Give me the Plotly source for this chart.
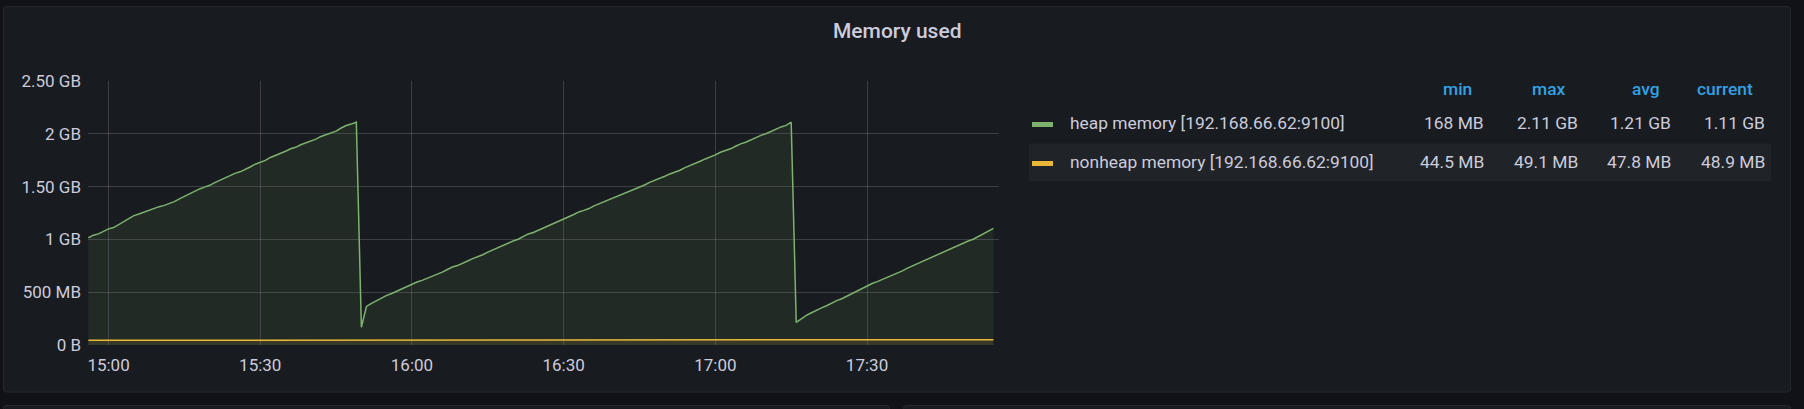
import pandas as pd
import plotly.graph_objects as go

# ---------------- data ----------------
start_time = "2021-06-01 14:56:00"
n_points = 180  # one sample per minute, 14:56 -> 17:55

heap_mb = [
    1016, 1040, 1052, 1078, 1100, 1112, 1140, 1168, 1195, 1225,
    1240, 1258, 1270, 1292, 1310, 1322, 1340, 1358, 1384, 1408,
    1425, 1448, 1478, 1495, 1512, 1538, 1560, 1575, 1598, 1625,
    1640, 1660, 1686, 1712, 1728, 1748, 1776, 1794, 1810, 1835,
    1858, 1872, 1896, 1915, 1928, 1950, 1975, 1992, 2005, 2025,
    2055, 2078, 2092, 2110, 168, 365, 395, 420, 448, 470,
    488, 510, 535, 552, 575, 596, 612, 630, 655, 672,
    690, 715, 738, 752, 770, 795, 818, 836, 855, 880,
    902, 920, 942, 968, 985, 1002, 1028, 1052, 1066, 1088,
    1112, 1130, 1150, 1178, 1200, 1215, 1236, 1260, 1275, 1292,
    1318, 1338, 1352, 1372, 1395, 1415, 1432, 1456, 1478, 1494,
    1515, 1540, 1558, 1575, 1598, 1620, 1636, 1655, 1680, 1698,
    1715, 1740, 1762, 1778, 1800, 1825, 1840, 1858, 1882, 1905,
    1920, 1942, 1966, 1985, 2000, 2022, 2048, 2065, 2080, 2110,
    215, 248, 280, 305, 332, 352, 372, 398, 420, 438,
    462, 488, 512, 535, 560, 582, 600, 620, 642, 662,
    680, 702, 728, 750, 768, 790, 815, 835, 855, 878,
    900, 920, 942, 962, 985, 1002, 1028, 1052, 1075, 1105,
]

nonheap_mb = [
    44.5, 44.6, 44.6, 44.7, 44.8, 45.0, 45.3, 45.9, 46.6, 47.2,
    47.5, 47.7, 47.8, 47.8, 47.9, 47.9, 48.0, 47.9, 48.0, 48.0,
    48.0, 48.1, 48.0, 48.1, 48.1, 48.0, 48.1, 48.2, 48.1, 48.1,
    48.2, 48.1, 48.2, 48.2, 48.1, 48.2, 48.2, 48.3, 48.2, 48.2,
    48.3, 48.2, 48.3, 48.3, 48.2, 48.3, 48.3, 48.4, 48.3, 48.3,
    48.4, 48.3, 48.4, 48.4, 47.6, 47.7, 47.7, 47.8, 47.8, 47.9,
    47.9, 47.9, 48.0, 48.0, 47.9, 48.0, 48.0, 48.1, 48.0, 48.0,
    48.1, 48.0, 48.1, 48.1, 48.0, 48.1, 48.1, 48.2, 48.1, 48.1,
    48.2, 48.1, 48.2, 48.2, 48.1, 48.2, 48.2, 48.3, 48.2, 48.2,
    48.3, 48.2, 48.3, 48.3, 48.2, 48.3, 48.3, 48.4, 48.3, 48.3,
    48.4, 48.3, 48.4, 48.4, 48.5, 48.6, 48.7, 48.8, 48.9, 49.0,
    49.1, 49.0, 48.8, 48.5, 48.3, 48.2, 48.3, 48.3, 48.4, 48.3,
    48.3, 48.4, 48.4, 48.3, 48.4, 48.4, 48.5, 48.4, 48.4, 48.5,
    48.5, 48.4, 48.5, 48.5, 48.4, 48.5, 48.5, 48.6, 48.5, 48.5,
    47.9, 48.0, 48.0, 48.1, 48.1, 48.2, 48.2, 48.3, 48.3, 48.4,
    48.4, 48.5, 48.5, 48.5, 48.6, 48.6, 48.6, 48.7, 48.7, 48.7,
    48.7, 48.8, 48.8, 48.8, 48.8, 48.8, 48.9, 48.8, 48.9, 48.9,
    48.9, 48.9, 48.8, 48.9, 48.9, 48.9, 48.9, 48.9, 48.9, 48.9,
]

series_names = ["heap memory [192.168.66.62:9100]", "nonheap memory [192.168.66.62:9100]"]
series_colors = ["#7eb26d", "#eab839"]
series_fills = ["rgba(126,178,109,0.10)", "rgba(234,184,57,0.10)"]

stat_headers = ["min", "max", "avg", "current"]
heap_stats = ["168 MB", "2.11 GB", "1.21 GB", "1.11 GB"]
nonheap_stats = ["44.5 MB", "49.1 MB", "47.8 MB", "48.9 MB"]

y_tick_vals = [0, 500, 1000, 1500, 2000, 2500]
y_tick_text = ["0 B", "500 MB", "1 GB", "1.50 GB", "2 GB", "2.50 GB"]
x_tick_text = ["15:00", "15:30", "16:00", "16:30", "17:00", "17:30"]
x_tick_vals = ["2021-06-01 " + t for t in x_tick_text]
x_range = ["2021-06-01 14:55:56", "2021-06-01 17:56:06"]
title_text = "Memory used"

times = pd.date_range(start_time, periods=n_points, freq="1min")

# ---------------- figure ----------------
W, H = 1804, 409
ML, MR, MT, MB = 88, 805, 81, 64
PW, PH = W - ML - MR, H - MT - MB


def px(x):
    return (x - ML) / PW


def py(y):
    return (H - MB - y) / PH


TEXT = "#ccccdc"
FONT = "Roboto"

fig = go.Figure()
for vals, name, col, fc in zip([heap_mb, nonheap_mb], series_names, series_colors, series_fills):
    fig.add_trace(go.Scatter(
        x=times, y=vals, name=name, mode="lines",
        line=dict(color=col, width=1.5), fill="tozeroy", fillcolor=fc,
        hoverinfo="skip", showlegend=False,
    ))


def rrect(x0, y0, x1, y1, r):
    X0, X1 = px(x0), px(x1)
    Y0, Y1 = py(y0), py(y1)
    rx, ry = r / PW, r / PH
    return (f"M {X0+rx},{Y0} L {X1-rx},{Y0} Q {X1},{Y0} {X1},{Y0-ry} "
            f"L {X1},{Y1+ry} Q {X1},{Y1} {X1-rx},{Y1} L {X0+rx},{Y1} "
            f"Q {X0},{Y1} {X0},{Y1+ry} L {X0},{Y0-ry} Q {X0},{Y0} {X0+rx},{Y0} Z")


shapes = []
panel_border = "#25282d"
panel_bg = "#181b1f"
# main panel
shapes.append(dict(type="path", xref="paper", yref="paper", layer="below",
                   path=rrect(3.5, 6.5, 1790.5, 392, 3), fillcolor=panel_bg,
                   line=dict(color=panel_border, width=1)))
# tops of the panels below
shapes.append(dict(type="path", xref="paper", yref="paper", layer="below",
                   path=rrect(3.5, 405.5, 889.5, 440, 3), fillcolor=panel_bg,
                   line=dict(color=panel_border, width=1)))
shapes.append(dict(type="path", xref="paper", yref="paper", layer="below",
                   path=rrect(903.5, 405.5, 1790.5, 440, 3), fillcolor=panel_bg,
                   line=dict(color=panel_border, width=1)))
# legend striped row
shapes.append(dict(type="rect", xref="paper", yref="paper", layer="below",
                   x0=px(1029), x1=px(1771), y0=py(143.5), y1=py(181.5),
                   fillcolor="#202328", line=dict(width=0)))
# legend swatches
for col, yc in zip(series_colors, [124.5, 163.5]):
    shapes.append(dict(type="rect", xref="paper", yref="paper",
                       x0=px(1032), x1=px(1053), y0=py(yc - 2.5), y1=py(yc + 2.5),
                       fillcolor=col, line=dict(width=0)))

annotations = []
annotations.append(dict(text=title_text, xref="paper", yref="paper", x=px(897), y=py(31),
                        xanchor="center", yanchor="middle", showarrow=False,
                        font=dict(family=FONT, size=21, color=TEXT, weight=500)))
for name, yc in zip(series_names, [123, 162]):
    annotations.append(dict(text=name, xref="paper", yref="paper", x=px(1068), y=py(yc),
                            xanchor="left", yanchor="middle", showarrow=False,
                            font=dict(family=FONT, size=17.4, color=TEXT)))
header_right = [1474, 1568, 1662, 1755]
value_right = [1486, 1580, 1673, 1767]
for h, xr in zip(stat_headers, header_right):
    annotations.append(dict(text=h, xref="paper", yref="paper", x=px(xr), y=py(89),
                            xanchor="right", yanchor="middle", showarrow=False,
                            font=dict(family=FONT, size=17.4, color="#33a2e5", weight=500)))
for stats, yc in zip([heap_stats, nonheap_stats], [123, 162]):
    for v, xr in zip(stats, value_right):
        annotations.append(dict(text=v, xref="paper", yref="paper", x=px(xr), y=py(yc),
                                xanchor="right", yanchor="middle", showarrow=False,
                                font=dict(family=FONT, size=17.4, color=TEXT)))

GRID = "rgba(204,204,220,0.20)"
fig.update_layout(
    width=W, height=H,
    margin=dict(l=ML, r=MR, t=MT, b=MB, pad=0),
    paper_bgcolor="#111217", plot_bgcolor="rgba(0,0,0,0)",
    font=dict(family=FONT, color=TEXT),
    shapes=shapes, annotations=annotations,
    hovermode=False,
    xaxis=dict(type="date", range=x_range, tickvals=x_tick_vals, ticktext=x_tick_text,
               showgrid=True, gridcolor=GRID, gridwidth=1, zeroline=False, showline=False,
               ticks="", ticklabelstandoff=8, tickfont=dict(family=FONT, size=17, color=TEXT),
               fixedrange=True),
    yaxis=dict(range=[0, 2500], tickvals=y_tick_vals, ticktext=y_tick_text,
               showgrid=True, gridcolor=GRID, gridwidth=1, zeroline=False, showline=False,
               ticks="", ticklabelstandoff=6, tickfont=dict(family=FONT, size=17, color=TEXT),
               fixedrange=True),
)

fig.write_html(
    "out.html",
    config={"displayModeBar": False},
    post_script="document.body.style.margin='0';document.body.style.background='#111217';",
)
